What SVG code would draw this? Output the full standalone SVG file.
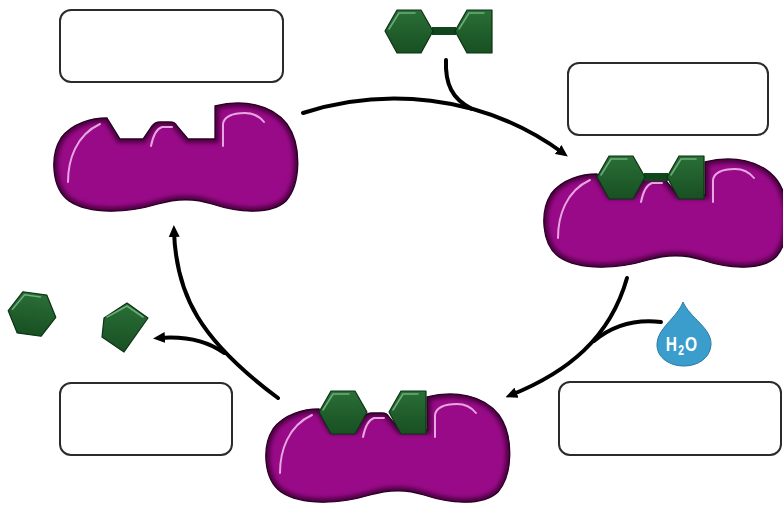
<svg xmlns="http://www.w3.org/2000/svg" xmlns:xlink="http://www.w3.org/1999/xlink" width="783" height="510" viewBox="0 0 783 510">
  <style>
    .box { fill: #ffffff; stroke: #2b2b2b; stroke-width: 2; }
    .conn { fill: none; stroke: #000000; stroke-width: 4; stroke-linecap: round; }
    .sugar { fill: url(#sugarFill); stroke: #0b3314; stroke-width: 1.2; stroke-linejoin: round; }
    .sugar-hi { fill: none; stroke: #79b985; stroke-width: 1.6; stroke-linecap: round; stroke-linejoin: round; opacity: 0.85; }
    .bond { fill: #0f461b; }
    .enz-hi { fill: none; stroke: #f4c2ee; stroke-width: 2; stroke-linecap: round; opacity: 0.85; }
    .water-label { font-family: "Liberation Sans", Arial, sans-serif; font-weight: bold; fill: #ffffff; }
  </style>
  <defs>
    <linearGradient id="sugarFill" x1="0" y1="0" x2="0" y2="1">
      <stop offset="0" stop-color="#2a6e37"/>
      <stop offset="1" stop-color="#185022"/>
    </linearGradient>
    <filter id="soft" x="-20%" y="-20%" width="140%" height="140%">
      <feGaussianBlur stdDeviation="2.2"/>
    </filter>
    <marker id="arrowHead" viewBox="0 0 12 12" refX="6" refY="6" markerWidth="12" markerHeight="12" markerUnits="userSpaceOnUse" orient="auto">
      <path d="M0,0.5 L12,6 L0,11.5 Z" fill="#000000"/>
    </marker>

    <!-- enzyme outline with two binding pockets -->
    <path id="enzymeBody" d="M107,118 L120,139 L143,139 L152,126 Q155,122 160,122 L170,122 Q175,122 177,126 L188,139 L215,139 L215,106 C242,99 272,104 287,124 C302,145 301,184 286,201 C270,216 236,212 212,204 C194,198 178,198 158,204 C128,213 90,215 69,201 C51,188 50,155 61,138 C72,123 92,118 107,118 Z"/>
    <clipPath id="enzClip">
      <use xlink:href="#enzymeBody"/>
    </clipPath>
    <g id="enzyme">
      <use xlink:href="#enzymeBody" fill="#990a88"/>
      <g clip-path="url(#enzClip)">
        <use xlink:href="#enzymeBody" fill="none" stroke="#4d0043" stroke-width="8" filter="url(#soft)"/>
      </g>
      <use xlink:href="#enzymeBody" fill="none" stroke="#2a0024" stroke-width="1.3"/>
      <path class="enz-hi" d="M68,182 C68,160 76,135 100,124"/>
      <path class="enz-hi" d="M151,146 C153,136 156,129 162,127 L172,127"/>
      <path class="enz-hi" d="M223,146 L223,125 C223,117 232,113 245,113 C254,113 260,117 264,122"/>
    </g>

    <!-- sugar units (coordinates in the enzyme frame) -->
    <g id="hexUnit">
      <polygon class="sugar" points="107,121 119,100 143,100 155,121 143,143 119,143"/>
      <polyline class="sugar-hi" points="111,119 121,103 137,103"/>
    </g>
    <g id="halfUnit">
      <polygon class="sugar" points="177,121 189,100 214,100 214,143 189,143"/>
      <polyline class="sugar-hi" points="181,119 191,103 206,103"/>
    </g>
    <g id="pair">
      <rect class="bond" x="154" y="117" width="24" height="8"/>
      <use xlink:href="#hexUnit"/>
      <use xlink:href="#halfUnit"/>
    </g>
  </defs>

  <!-- label boxes -->
  <g id="box-top-left"><rect class="box" x="60" y="10" width="223" height="72" rx="11"/></g>
  <g id="box-top-right"><rect class="box" x="568" y="63" width="200" height="72" rx="11"/></g>
  <g id="box-bottom-right"><rect class="box" x="559" y="382" width="222" height="73" rx="11"/></g>
  <g id="box-bottom-left"><rect class="box" x="60" y="383" width="172" height="72" rx="11"/></g>

  <!-- connectors -->
  <g id="connectors">
    <path class="conn" d="M303,113 C380,88 480,92 563,153" marker-end="url(#arrowHead)"/>
    <path class="conn" d="M446,60 C445,84 452,99 472,109"/>
    <path class="conn" d="M627,278 C610,338 568,372 511,395" marker-end="url(#arrowHead)"/>
    <path class="conn" d="M661,322 C635,319 612,326 594,341"/>
    <path class="conn" d="M278,398 C200,340 176,295 174,231" marker-end="url(#arrowHead)"/>
    <path class="conn" d="M224,353 C206,340 185,336 159,338" marker-end="url(#arrowHead)"/>
  </g>

  <!-- free enzyme -->
  <g id="enzyme-free">
    <use xlink:href="#enzyme"/>
  </g>

  <!-- enzyme holding the disaccharide -->
  <g id="enzyme-substrate" transform="translate(490,56)">
    <use xlink:href="#enzyme"/>
    <use xlink:href="#pair"/>
  </g>

  <!-- enzyme holding the two split units -->
  <g id="enzyme-products" transform="translate(212,291)">
    <use xlink:href="#enzyme"/>
    <use xlink:href="#hexUnit"/>
    <use xlink:href="#halfUnit"/>
  </g>

  <!-- free disaccharide -->
  <g id="disaccharide" transform="translate(278,-90)">
    <use xlink:href="#pair"/>
  </g>

  <!-- water -->
  <g id="water">
    <path d="M683,302 C690,318 712,328 711,345 C710,358 698,366 684,366 C670,366 657,358 657,345 C657,328 677,318 683,302 Z" fill="#3a9dcb" stroke="#2a7aa6" stroke-width="1"/>
    <text class="water-label" transform="translate(682,351) scale(0.74,1)" text-anchor="middle" font-size="21" letter-spacing="1.5">H<tspan font-size="14" dy="4">2</tspan><tspan dy="-4">O</tspan></text>
  </g>

  <!-- released units -->
  <g id="monomer-hexagon" transform="translate(32,314) rotate(8)">
    <polygon class="sugar" points="-24,0 -12,-20.8 12,-20.8 24,0 12,20.8 -12,20.8"/>
    <polyline class="sugar-hi" points="-20,-2 -10,-18 6,-18"/>
  </g>
  <g id="monomer-half">
    <polygon class="sugar" points="104,318 127,303 148,318 124,352 102,337"/>
    <polyline class="sugar-hi" points="107,317 127,306 143,317"/>
  </g>
</svg>
